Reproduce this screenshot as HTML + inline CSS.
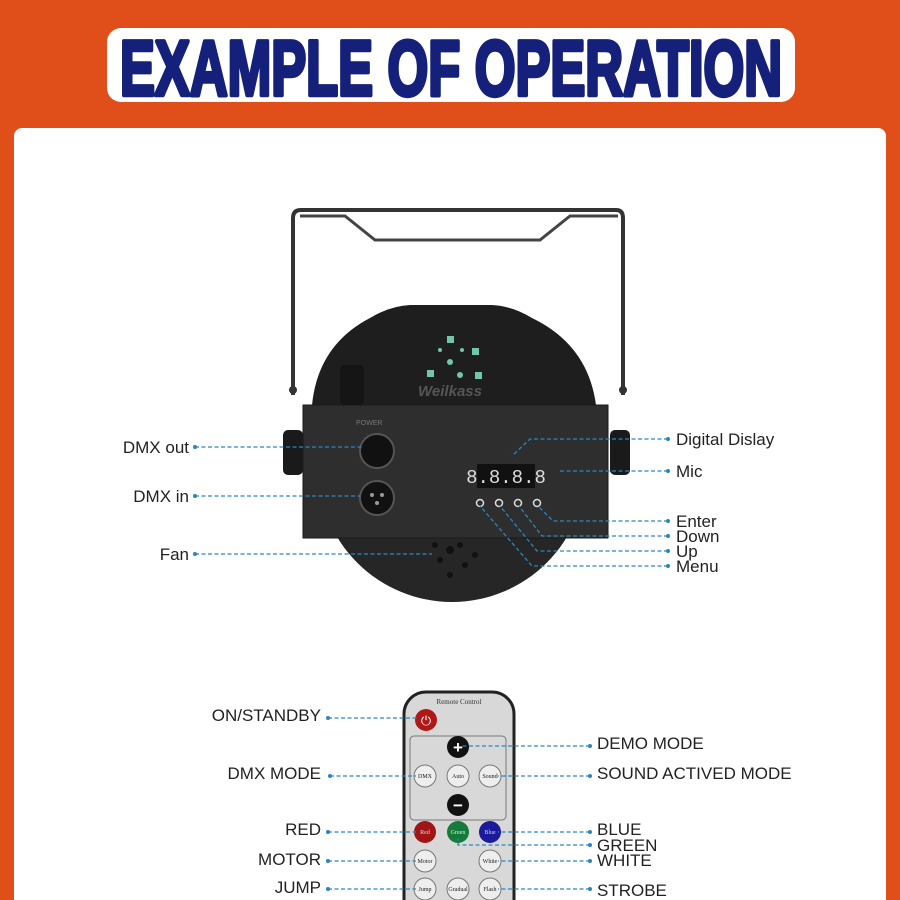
<!DOCTYPE html><html><head><style>
body{margin:0;width:900px;height:900px;overflow:hidden;background:#e04e1a;font-family:"Liberation Sans",sans-serif}
</style></head><body>
<svg width="900" height="900" viewBox="0 0 900 900" xmlns="http://www.w3.org/2000/svg" style="position:absolute;left:0;top:0">
<rect width="900" height="900" fill="#e04e1a"/>
<rect x="14" y="128" width="872" height="800" rx="8" fill="#fff"/>
<rect x="107" y="28" width="688" height="74" rx="14" fill="#fff"/>
<text x="451" y="95" text-anchor="middle" font-family="Liberation Sans" font-weight="bold" font-size="62" fill="#14207a" stroke="#14207a" stroke-width="3.5" stroke-linejoin="round" transform="translate(451 0) scale(1.0 1.25) translate(-451 -19)" textLength="662" lengthAdjust="spacingAndGlyphs">EXAMPLE OF OPERATION</text>
<!-- bracket -->
<path d="M293 395 V218 Q293 210 301 210 H616 Q623 210 623 218 V395" fill="none" stroke="#333" stroke-width="4"/>
<path d="M300 216 H345 L375 240 H540 L570 216 H618" fill="none" stroke="#444" stroke-width="3"/>
<circle cx="293" cy="390" r="4" fill="#333"/><circle cx="623" cy="390" r="4" fill="#333"/>
<!-- body -->
<circle cx="452" cy="468" r="134" fill="#262626"/>
<path d="M312 405 Q318 345 370 318 Q390 306 410 305 H492 Q512 306 532 318 Q588 345 596 405 Z" fill="#1e1e1e"/>
<rect x="303" y="405" width="305" height="133" fill="#2e2e2e" stroke="#1a1a1a"/>
<rect x="340" y="365" width="24" height="40" rx="4" fill="#151515"/>
<text x="450" y="396" text-anchor="middle" font-size="15" font-style="italic" font-weight="bold" fill="#555">Weilkass</text>
<g fill="#6fc9a6"><rect x="447" y="336" width="7" height="7"/><rect x="472" y="348" width="7" height="7"/><rect x="427" y="370" width="7" height="7"/><rect x="475" y="372" width="7" height="7"/><circle cx="450" cy="362" r="3"/><circle cx="440" cy="350" r="2"/><circle cx="462" cy="350" r="2"/><circle cx="460" cy="375" r="3"/></g>
<rect x="283" y="430" width="20" height="45" rx="5" fill="#1a1a1a"/>
<rect x="610" y="430" width="20" height="45" rx="5" fill="#1a1a1a"/>
<circle cx="377" cy="451" r="17" fill="#111" stroke="#555" stroke-width="2"/>
<circle cx="377" cy="498" r="17" fill="#111" stroke="#555" stroke-width="2"/>
<g fill="#999"><circle cx="372" cy="495" r="2"/><circle cx="382" cy="495" r="2"/><circle cx="377" cy="503" r="2"/></g>
<text x="356" y="425" font-size="7" fill="#777">POWER</text>
<rect x="477" y="464" width="58" height="24" fill="#111"/>
<text x="506" y="483" text-anchor="middle" font-family="Liberation Mono" font-size="19" fill="#ddd">8.8.8.8</text>
<g fill="none" stroke="#ddd" stroke-width="1.5"><circle cx="480" cy="503" r="3.5"/><circle cx="499" cy="503" r="3.5"/><circle cx="518" cy="503" r="3.5"/><circle cx="537" cy="503" r="3.5"/></g>
<g fill="#111"><circle cx="450" cy="550" r="4"/><circle cx="440" cy="560" r="3"/><circle cx="460" cy="545" r="3"/><circle cx="465" cy="565" r="3"/><circle cx="435" cy="545" r="3"/><circle cx="450" cy="575" r="3"/><circle cx="475" cy="555" r="3"/></g>
<!-- remote -->
<rect x="404" y="692" width="110" height="240" rx="22" fill="#d8d8d8" stroke="#222" stroke-width="3"/>
<text x="459" y="704" text-anchor="middle" font-family="Liberation Serif" font-size="7" fill="#333">Remote Control</text>
<circle cx="426" cy="720" r="11" fill="#b01818"/>
<text x="426" y="725" text-anchor="middle" font-size="13" fill="#fff">⏻</text>
<rect x="410" y="736" width="96" height="84" rx="4" fill="none" stroke="#777"/>
<circle cx="458" cy="747" r="11" fill="#111"/><text x="458" y="753" text-anchor="middle" font-size="17" fill="#fff" font-weight="bold">+</text>
<circle cx="458" cy="805" r="11" fill="#111"/><text x="458" y="811" text-anchor="middle" font-size="17" fill="#fff" font-weight="bold">−</text>
<g fill="#eee" stroke="#777"><circle cx="425" cy="776" r="11"/><circle cx="458" cy="776" r="11"/><circle cx="490" cy="776" r="11"/><circle cx="425" cy="861" r="11"/><circle cx="490" cy="861" r="11"/><circle cx="425" cy="889" r="11"/><circle cx="458" cy="889" r="11"/><circle cx="490" cy="889" r="11"/></g>
<circle cx="425" cy="832" r="11" fill="#a01515"/><circle cx="458" cy="832" r="11" fill="#157a3a"/><circle cx="490" cy="832" r="11" fill="#1a1a9a"/>
<g font-family="Liberation Serif" font-size="6" text-anchor="middle" fill="#222"><text x="425" y="778">DMX</text><text x="458" y="778">Auto</text><text x="490" y="778">Sound</text><text x="425" y="834" fill="#fcc">Red</text><text x="458" y="834" fill="#cfc">Green</text><text x="490" y="834" fill="#ccf">Blue</text><text x="425" y="863">Motor</text><text x="490" y="863">White</text><text x="425" y="891">Jump</text><text x="458" y="891">Gradual</text><text x="490" y="891">Flash</text></g>
<!-- connectors -->
<g fill="none" stroke="#2a86bd" stroke-width="1.3" stroke-dasharray="4 2.5">
<path d="M195 447 H362"/><path d="M195 496 H360"/><path d="M195 554 H432"/>
<path d="M668 439 H530 L512 456"/><path d="M668 471 H558"/>
<path d="M668 521 H553 L538 506"/><path d="M668 536 H542 L519 506"/><path d="M668 551 H537 L500 506"/><path d="M668 566 H532 L480 506"/>
<path d="M328 718 H418"/><path d="M590 746 H460"/><path d="M330 776 H416"/><path d="M590 776 H498"/>
<path d="M328 832 H416"/><path d="M590 832 H498"/><path d="M590 845 H458 V838"/>
<path d="M328 861 H416"/><path d="M590 861 H498"/><path d="M328 889 H416"/><path d="M590 889 H498"/>
</g>
<g fill="#2a86bd"><circle cx="195" cy="447" r="2"/><circle cx="195" cy="496" r="2"/><circle cx="195" cy="554" r="2"/><circle cx="668" cy="439" r="2"/><circle cx="668" cy="471" r="2"/><circle cx="668" cy="521" r="2"/><circle cx="668" cy="536" r="2"/><circle cx="668" cy="551" r="2"/><circle cx="668" cy="566" r="2"/>
<circle cx="328" cy="718" r="2"/><circle cx="590" cy="746" r="2"/><circle cx="330" cy="776" r="2"/><circle cx="590" cy="776" r="2"/><circle cx="328" cy="832" r="2"/><circle cx="590" cy="832" r="2"/><circle cx="590" cy="845" r="2"/><circle cx="328" cy="861" r="2"/><circle cx="590" cy="861" r="2"/><circle cx="328" cy="889" r="2"/><circle cx="590" cy="889" r="2"/></g>
<g font-size="17" fill="#222">
<text x="189" y="453" text-anchor="end">DMX out</text><text x="189" y="502" text-anchor="end">DMX in</text><text x="189" y="560" text-anchor="end">Fan</text>
<text x="676" y="445">Digital Dislay</text><text x="676" y="477">Mic</text><text x="676" y="527">Enter</text><text x="676" y="542">Down</text><text x="676" y="557">Up</text><text x="676" y="572">Menu</text>
<text x="321" y="721" text-anchor="end">ON/STANDBY</text><text x="321" y="779" text-anchor="end">DMX MODE</text><text x="321" y="835" text-anchor="end">RED</text><text x="321" y="865" text-anchor="end">MOTOR</text><text x="321" y="893" text-anchor="end">JUMP</text>
<text x="597" y="749">DEMO MODE</text><text x="597" y="779">SOUND ACTIVED MODE</text><text x="597" y="835">BLUE</text><text x="597" y="851">GREEN</text><text x="597" y="866">WHITE</text><text x="597" y="896">STROBE</text>
</g>
</svg>
</body></html>
